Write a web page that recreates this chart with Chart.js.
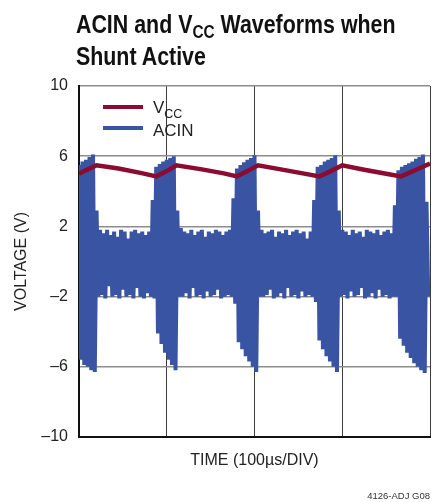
<!DOCTYPE html>
<html>
<head>
<meta charset="utf-8">
<script src="https://cdn.jsdelivr.net/npm/chart.js@4"></script>
<style>
  html, body { margin: 0; padding: 0; background: #fff; }
  #wrap { position: relative; width: 439px; height: 502px; }
  #title {
    position: absolute; left: 76px; top: 10px;
    font-family: "Liberation Sans", Arial, sans-serif;
    font-weight: bold; font-size: 25px; line-height: 29px; color: #111;
    white-space: nowrap;
    transform: scaleX(0.855); transform-origin: 0 0;
  }
  #title .sub { font-size: 18px; position: relative; top: 5px; }
  #code {
    position: absolute; right: 9px; top: 490px;
    font-family: "Liberation Sans", Arial, sans-serif; font-size: 9.5px; color: #333;
  }
  canvas { position: absolute; left: 0; top: 0; }
</style>
</head>
<body>
<div id="wrap">
  <canvas id="chart" width="439" height="502"></canvas>
  <div id="title">ACIN and V<span class="sub">CC</span> Waveforms when<br>Shunt Active</div>
  <div id="code">4126-ADJ G08</div>
</div>
<script>
// V_CC (time in µs, value in V)
const vccTime=[0, 10, 20, 45, 70, 88, 100, 111, 140, 165, 180, 192, 204, 230, 255, 274, 287, 300, 325, 350, 367, 383, 400];
const vccVolts=[5.0, 5.25, 5.48, 5.3, 5.05, 4.85, 5.15, 5.48, 5.25, 5.02, 4.85, 5.15, 5.48, 5.25, 5.02, 4.85, 5.15, 5.48, 5.23, 5.0, 4.85, 5.2, 5.58];

// ACIN ringing, one high and one low peak per 4µs cycle
const acinCycle=4;
const acinHigh=[
  5.5, 5.7, 5.8, 5.95, 6.1, 2.9,
  1.8, 1.6, 1.8, 1.5, 1.7, 1.4, 1.8, 1.7, 1.3, 1.7, 1.8, 1.6, 1.7, 1.5, 1.7,
  3.5, 5.4, 5.55, 5.7, 5.8, 5.9, 6.0, 2.9,
  1.9, 1.7, 1.6, 1.8, 1.5, 1.7, 1.8, 1.4, 1.7, 1.6, 1.8, 1.7, 1.5, 1.7, 1.8,
  3.6, 5.3, 5.5, 5.65, 5.8, 5.9, 6.05, 2.9,
  1.8, 1.6, 1.7, 1.8, 1.4, 1.7, 1.6, 1.8, 1.5, 1.7, 1.8, 1.6, 1.7, 1.3, 1.7,
  3.5, 5.4, 5.5, 5.7, 5.8, 5.9, 6.05, 2.9,
  1.8, 1.7, 1.5, 1.8, 1.6, 1.7, 1.4, 1.8, 1.7, 1.6, 1.8, 1.5, 1.7, 1.8, 1.6,
  3.2, 5.2, 5.4, 5.5, 5.6, 5.7, 5.85, 5.95, 6.1, 3.4
];
const acinLow=[
  -5.6, -5.9, -6.0, -6.2, -6.3, -2.0,
  -1.9, -2.1, -1.4, -2.0, -1.9, -2.1, -1.6, -2.0, -1.9, -2.1, -1.5, -2.0, -2.1, -1.8, -2.0,
  -2.1, -4.1, -4.7, -5.2, -5.6, -5.9, -6.2, -2.0,
  -2.0, -1.8, -2.1, -1.5, -2.0, -1.9, -2.1, -1.7, -2.0, -1.9, -1.6, -2.1, -2.0, -1.9, -2.0,
  -2.4, -4.6, -5.0, -5.4, -5.7, -6.0, -6.3, -2.0,
  -2.0, -1.9, -1.6, -2.1, -2.0, -1.8, -2.1, -1.5, -2.0, -1.9, -2.1, -1.7, -2.0, -1.9, -2.0,
  -2.3, -4.5, -5.0, -5.4, -5.7, -6.0, -6.3, -2.0,
  -1.9, -2.1, -1.7, -2.0, -1.9, -1.5, -2.1, -2.0, -1.8, -2.1, -1.6, -2.0, -1.9, -2.1, -2.0,
  -2.0, -4.4, -4.8, -5.2, -5.5, -5.8, -6.0, -6.2, -6.35, -2.0
];

const yTicks=[-10, -6, -2, 2, 6, 10];
const timeDivs=[0, 100, 200, 300, 400];

const VCC_COLOR='#8c0b30';
const ACIN_COLOR='#3a54a4';

const vccPoints=vccTime.map((t,i)=>({x:t, y:vccVolts[i]}));
const acinPoints=[];
acinHigh.forEach((hi,k)=>{
    acinPoints.push({x:k*acinCycle, y:hi});
    acinPoints.push({x:k*acinCycle+acinCycle/2, y:acinLow[k]});
});

// legend with the subscript, drawn inside the plot
const legendPlugin={
    id:'subLegend',
    afterDraw(chart){
        const ctx=chart.ctx;
        const a=chart.chartArea;
        const x0=a.left+24, x1=a.left+64, tx=a.left+74;
        const rows=[{y:a.top+21, color:VCC_COLOR}, {y:a.top+42, color:ACIN_COLOR}];
        ctx.save();
        rows.forEach(r=>{
            ctx.strokeStyle=r.color;
            ctx.lineWidth=4;
            ctx.beginPath();
            ctx.moveTo(x0,r.y);
            ctx.lineTo(x1,r.y);
            ctx.stroke();
        });
        ctx.fillStyle='#222';
        ctx.textBaseline='alphabetic';
        ctx.font='17px "Liberation Sans", Arial, sans-serif';
        ctx.fillText('V', tx, rows[0].y+6);
        const vw=ctx.measureText('V').width;
        ctx.font='12.5px "Liberation Sans", Arial, sans-serif';
        ctx.fillText('CC', tx+vw, rows[0].y+11);
        ctx.font='17px "Liberation Sans", Arial, sans-serif';
        ctx.fillText('ACIN', tx, rows[1].y+8);
        ctx.restore();
    }
};

new Chart(document.getElementById('chart'),{
    type:'line',
    data:{
        datasets:[
            {
                label:'VCC',
                data:vccPoints,
                borderColor:VCC_COLOR,
                borderWidth:4.5,
                pointRadius:0,
                tension:0
            },
            {
                label:'ACIN',
                data:acinPoints,
                borderColor:ACIN_COLOR,
                borderWidth:4,
                pointRadius:0,
                tension:0
            }
        ]
    },
    options:{
        responsive:false,
        animation:false,
        events:[],
        layout:{padding:{top:86, right:9, left:0, bottom:0}},
        plugins:{
            legend:{display:false},
            tooltip:{enabled:false},
            title:{display:false}
        },
        scales:{
            x:{
                type:'linear',
                min:0,
                max:400,
                afterBuildTicks:s=>{ s.ticks=timeDivs.map(v=>({value:v})); },
                afterFit:s=>{ s.height=65; },
                ticks:{display:false},
                grid:{color:'#3c3c3c', lineWidth:1, drawTicks:false},
                border:{color:'#111', width:2},
                title:{
                    display:true,
                    text:'TIME (100µs/DIV)',
                    color:'#222',
                    font:{family:'"Liberation Sans", Arial, sans-serif', size:16},
                    padding:{top:0, bottom:32}
                }
            },
            y:{
                min:-10,
                max:10,
                afterBuildTicks:s=>{ s.ticks=yTicks.map(v=>({value:v})); },
                afterFit:s=>{ s.width=79; },
                ticks:{
                    color:'#222',
                    padding:11,
                    font:{family:'"Liberation Sans", Arial, sans-serif', size:16},
                    callback:v=>v<0 ? '\u2013'+Math.abs(v) : String(v)
                },
                grid:{color:'#8c8c8c', lineWidth:1.5, drawTicks:false},
                border:{color:'#111', width:2},
                title:{
                    display:true,
                    text:'VOLTAGE (V)',
                    color:'#222',
                    font:{family:'"Liberation Sans", Arial, sans-serif', size:16},
                    padding:{top:12, bottom:0}
                }
            }
        }
    },
    plugins:[legendPlugin]
});
</script>
</body>
</html>
